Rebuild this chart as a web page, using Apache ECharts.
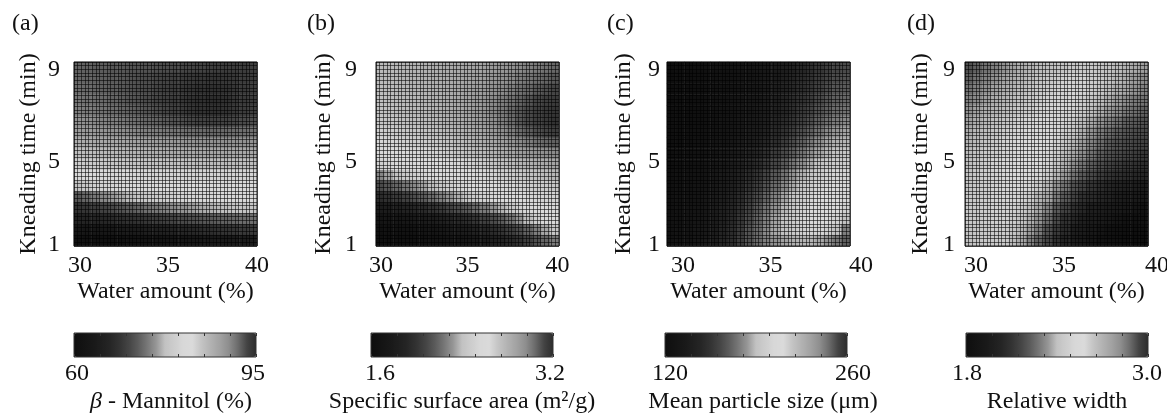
<!DOCTYPE html>
<html>
<head>
<meta charset="utf-8">
<script src="https://cdn.jsdelivr.net/npm/echarts@6/dist/echarts.min.js"></script>
<style>
  html, body { margin: 0; padding: 0; background: #fff; }
  #chart { width: 1167px; height: 413px; }
</style>
</head>
<body>
<div id="chart"></div>
<script>
// grid of the response surfaces
const waterAmount = [30, 30.5, 31, 31.5, 32, 32.5, 33, 33.5, 34, 34.5, 35, 35.5, 36, 36.5, 37, 37.5, 38, 38.5, 39, 39.5, 40];
const kneadingTime = [1, 1.5, 2, 2.5, 3, 3.5, 4, 4.5, 5, 5.5, 6, 6.5, 7, 7.5, 8, 8.5, 9];

// rows go from 9 min (top) down to 1 min (bottom)
const betaMannitol = [
  [92.0,92.0,92.2,92.2,92.4,92.4,92.6,92.6,92.7,92.8,92.9,93.0,93.2,93.3,93.4,93.6,93.7,93.8,93.8,93.8,93.7],
  [91.8,91.9,92.0,92.1,92.3,92.4,92.6,92.8,93.0,93.2,93.4,93.6,93.9,94.1,94.3,94.4,94.4,94.3,94.1,93.9,93.8],
  [91.5,91.6,91.8,92.0,92.2,92.4,92.6,92.8,93.0,93.3,93.6,93.9,94.2,94.5,94.7,94.8,94.8,94.6,94.3,94.0,93.8],
  [91.0,91.2,91.4,91.6,91.9,92.2,92.5,92.7,93.0,93.3,93.6,93.9,94.3,94.6,94.8,94.9,94.9,94.7,94.3,94.0,93.8],
  [90.5,90.7,90.9,91.2,91.5,91.8,92.0,92.3,92.6,92.9,93.2,93.6,94.0,94.4,94.6,94.7,94.7,94.5,94.1,93.8,93.6],
  [89.5,89.7,90.0,90.3,90.6,90.9,91.2,91.5,91.8,92.0,92.3,92.6,92.9,93.2,93.4,93.5,93.5,93.4,93.2,93.0,92.8],
  [88.5,88.7,88.9,89.2,89.5,89.8,90.0,90.3,90.5,90.7,90.9,91.1,91.3,91.5,91.6,91.7,91.7,91.6,91.5,91.4,91.3],
  [86.8,87.0,87.2,87.4,87.6,87.8,88.0,88.2,88.4,88.6,88.8,89.0,89.2,89.4,89.5,89.6,89.6,89.6,89.5,89.4,89.3],
  [85.0,85.2,85.4,85.6,85.8,86.0,86.2,86.4,86.6,86.8,87.0,87.2,87.4,87.5,87.6,87.7,87.7,87.7,87.6,87.5,87.4],
  [83.8,84.0,84.1,84.2,84.3,84.4,84.5,84.6,84.7,84.8,84.9,85.0,85.1,85.2,85.3,85.4,85.4,85.4,85.3,85.2,85.1],
  [82.0,82.5,82.8,83.0,83.0,83.0,83.0,83.1,83.1,83.2,83.2,83.3,83.3,83.4,83.4,83.4,83.4,83.4,83.3,83.3,83.2],
  [77.5,78.5,79.5,80.0,80.5,81.0,81.5,81.8,82.0,82.2,82.4,82.5,82.6,82.7,82.7,82.8,82.8,82.8,82.8,82.7,82.7],
  [72.0,73.0,74.0,75.0,75.8,76.5,77.2,77.8,78.3,78.8,79.2,79.6,80.0,80.3,80.6,80.8,81.0,81.2,81.3,81.4,81.5],
  [68.5,69.0,69.5,70.2,70.8,71.5,72.2,72.8,73.5,74.0,74.6,75.1,75.6,76.0,76.4,76.8,77.1,77.4,77.6,77.8,78.0],
  [66.0,66.3,66.6,67.0,67.4,67.8,68.2,68.6,69.0,69.5,70.0,70.4,70.8,71.2,71.6,72.0,72.4,72.7,73.0,73.3,73.5],
  [62.5,62.8,63.0,63.3,63.6,64.0,64.4,64.8,65.2,65.6,66.0,66.4,66.8,67.2,67.6,68.0,68.4,68.7,69.0,69.3,69.5],
  [60.5,60.6,60.7,60.8,61.0,61.2,61.4,61.6,61.8,62.0,62.3,62.6,62.9,63.2,63.5,63.8,64.0,64.2,64.4,64.6,64.8]
];

const surfaceArea = [
  [2.76,2.77,2.78,2.79,2.80,2.81,2.82,2.83,2.84,2.85,2.86,2.87,2.89,2.91,2.93,2.95,2.97,2.99,3.01,3.03,3.05],
  [2.76,2.77,2.78,2.79,2.80,2.81,2.82,2.83,2.84,2.85,2.87,2.89,2.91,2.93,2.95,2.97,3.00,3.02,3.04,3.06,3.08],
  [2.75,2.76,2.77,2.78,2.79,2.80,2.81,2.82,2.84,2.86,2.88,2.90,2.92,2.95,2.97,3.00,3.03,3.05,3.08,3.10,3.12],
  [2.74,2.75,2.76,2.77,2.78,2.79,2.80,2.82,2.84,2.86,2.88,2.91,2.94,2.97,3.00,3.03,3.06,3.09,3.12,3.14,3.15],
  [2.73,2.74,2.75,2.76,2.77,2.78,2.79,2.81,2.83,2.85,2.88,2.91,2.94,2.98,3.01,3.05,3.08,3.11,3.14,3.16,3.17],
  [2.71,2.72,2.73,2.74,2.75,2.76,2.77,2.79,2.81,2.83,2.86,2.89,2.92,2.96,3.00,3.04,3.08,3.11,3.14,3.16,3.18],
  [2.68,2.69,2.70,2.71,2.72,2.73,2.74,2.76,2.78,2.80,2.82,2.85,2.88,2.92,2.96,3.00,3.04,3.07,3.10,3.12,3.14],
  [2.65,2.66,2.67,2.68,2.69,2.70,2.71,2.72,2.74,2.76,2.78,2.81,2.84,2.87,2.90,2.94,2.97,3.00,3.03,3.05,3.06],
  [2.60,2.62,2.63,2.64,2.65,2.66,2.67,2.68,2.70,2.72,2.74,2.76,2.78,2.81,2.84,2.87,2.90,2.92,2.94,2.96,2.97],
  [2.50,2.53,2.56,2.58,2.60,2.62,2.63,2.64,2.65,2.66,2.67,2.69,2.71,2.73,2.75,2.77,2.79,2.81,2.83,2.85,2.87],
  [2.28,2.34,2.40,2.45,2.49,2.53,2.56,2.59,2.61,2.63,2.64,2.65,2.66,2.67,2.69,2.70,2.71,2.73,2.74,2.76,2.78],
  [2.10,2.14,2.19,2.24,2.29,2.34,2.39,2.44,2.48,2.52,2.56,2.59,2.62,2.64,2.65,2.66,2.67,2.68,2.69,2.70,2.71],
  [1.95,1.98,2.02,2.06,2.11,2.16,2.21,2.26,2.31,2.36,2.41,2.46,2.51,2.55,2.59,2.62,2.64,2.65,2.66,2.67,2.67],
  [1.80,1.82,1.85,1.88,1.91,1.94,1.98,2.02,2.06,2.10,2.15,2.20,2.25,2.31,2.37,2.43,2.49,2.55,2.60,2.63,2.65],
  [1.70,1.71,1.73,1.75,1.77,1.79,1.82,1.85,1.88,1.92,1.96,2.00,2.05,2.10,2.16,2.23,2.31,2.39,2.47,2.55,2.61],
  [1.64,1.65,1.66,1.67,1.68,1.70,1.72,1.74,1.77,1.80,1.83,1.87,1.91,1.95,2.00,2.05,2.11,2.18,2.26,2.35,2.43],
  [1.62,1.62,1.63,1.63,1.64,1.65,1.66,1.68,1.70,1.72,1.75,1.78,1.81,1.85,1.89,1.94,1.99,2.05,2.12,2.19,2.25]
];

const particleSize = [
  [120,121,122,123,124,125,126,127,128,130,132,134,137,140,144,148,152,156,159,162,164],
  [120,121,122,123,124,125,126,127,128,130,132,135,138,142,146,150,154,158,161,164,166],
  [120,121,122,123,124,125,126,127,129,131,133,136,140,144,148,152,156,160,164,167,169],
  [120,121,122,123,124,125,126,128,130,132,134,137,141,145,150,154,158,163,167,170,172],
  [121,121,122,123,124,125,127,129,131,133,136,139,143,147,152,157,161,166,170,173,175],
  [121,122,122,123,124,126,128,130,132,135,138,141,146,150,155,160,165,170,174,177,180],
  [121,122,123,124,125,127,129,131,134,137,140,144,149,154,159,165,170,175,180,183,185],
  [122,122,123,125,126,128,130,133,136,139,143,147,152,158,164,170,176,181,185,187,188],
  [122,123,124,125,127,129,132,135,138,142,146,151,157,163,169,175,181,185,188,190,191],
  [122,123,124,126,128,131,134,137,141,145,150,156,162,168,175,181,186,190,193,195,195],
  [123,124,125,127,129,132,136,140,144,149,155,161,168,175,182,187,191,195,199,201,200],
  [123,124,126,128,130,134,138,142,147,153,159,166,173,180,186,191,196,201,205,205,203],
  [124,125,127,129,132,136,140,145,150,157,164,171,178,185,190,195,201,206,208,207,203],
  [124,126,128,130,133,137,142,147,153,160,168,175,182,188,193,199,205,209,209,206,199],
  [125,126,128,131,134,138,143,149,156,163,171,178,185,190,195,201,206,208,206,200,190],
  [125,127,129,132,135,139,145,151,158,166,173,180,186,190,194,199,202,202,198,190,178],
  [126,127,129,132,136,140,146,152,159,166,173,178,182,185,187,188,188,186,182,176,170]
];

const relativeWidth = [
  [2.19,2.23,2.27,2.30,2.33,2.355,2.37,2.38,2.39,2.395,2.40,2.41,2.43,2.43,2.43,2.41,2.40,2.39,2.38,2.365,2.35],
  [2.23,2.27,2.30,2.33,2.355,2.37,2.38,2.39,2.40,2.42,2.45,2.48,2.48,2.48,2.45,2.43,2.40,2.385,2.37,2.345,2.32],
  [2.27,2.30,2.33,2.355,2.37,2.38,2.39,2.40,2.43,2.45,2.48,2.49,2.49,2.48,2.45,2.41,2.39,2.37,2.36,2.33,2.30],
  [2.30,2.32,2.35,2.37,2.38,2.39,2.40,2.43,2.45,2.48,2.50,2.50,2.49,2.45,2.41,2.39,2.37,2.345,2.32,2.285,2.27],
  [2.33,2.355,2.37,2.38,2.39,2.40,2.43,2.45,2.48,2.50,2.51,2.50,2.48,2.43,2.395,2.37,2.345,2.32,2.285,2.26,2.23],
  [2.355,2.37,2.385,2.395,2.41,2.45,2.48,2.50,2.51,2.52,2.51,2.48,2.43,2.39,2.365,2.33,2.30,2.27,2.23,2.215,2.19],
  [2.37,2.385,2.395,2.41,2.45,2.48,2.50,2.52,2.52,2.52,2.50,2.45,2.40,2.37,2.33,2.285,2.255,2.225,2.20,2.18,2.17],
  [2.38,2.39,2.40,2.43,2.48,2.50,2.52,2.55,2.55,2.52,2.48,2.41,2.38,2.345,2.30,2.255,2.215,2.19,2.17,2.155,2.145],
  [2.39,2.40,2.43,2.45,2.48,2.50,2.52,2.56,2.52,2.50,2.45,2.39,2.36,2.32,2.27,2.22,2.19,2.17,2.15,2.13,2.11],
  [2.395,2.41,2.45,2.48,2.50,2.51,2.56,2.56,2.52,2.48,2.40,2.37,2.32,2.27,2.22,2.18,2.15,2.125,2.10,2.085,2.07],
  [2.40,2.43,2.45,2.48,2.50,2.52,2.56,2.52,2.50,2.43,2.38,2.34,2.27,2.215,2.17,2.13,2.10,2.075,2.06,2.04,2.03],
  [2.41,2.43,2.45,2.48,2.50,2.51,2.51,2.49,2.43,2.38,2.33,2.27,2.19,2.145,2.10,2.07,2.04,2.01,1.99,1.97,1.95],
  [2.43,2.44,2.45,2.48,2.50,2.50,2.48,2.43,2.38,2.36,2.285,2.215,2.15,2.08,2.06,2.03,2.01,1.97,1.95,1.94,1.92],
  [2.43,2.44,2.45,2.48,2.48,2.47,2.43,2.39,2.36,2.30,2.215,2.15,2.08,2.04,1.98,1.97,1.95,1.94,1.92,1.88,1.85],
  [2.43,2.43,2.45,2.47,2.48,2.45,2.40,2.37,2.33,2.255,2.17,2.08,2.04,1.98,1.95,1.94,1.92,1.88,1.85,1.84,1.83],
  [2.41,2.42,2.43,2.45,2.45,2.41,2.385,2.345,2.285,2.19,2.12,2.06,1.98,1.95,1.92,1.88,1.85,1.83,1.82,1.81,1.81],
  [2.40,2.41,2.43,2.43,2.43,2.39,2.365,2.30,2.23,2.16,2.08,2.01,1.95,1.92,1.88,1.85,1.83,1.82,1.81,1.805,1.80]
];

// tick labels
const waterTicks = [30, 35, 40];
const timeTicks = [1, 5, 9];
const barMinLabels = ['60', '1.6', '120', '1.8'];
const barMaxLabels = ['95', '3.2', '260', '3.0'];

// grey scale used by all four maps (dark -> light -> dark)
const greyMap = ['#0e0e0e','#131313','#181818','#1e1e1e','#262626','#333333','#444444','#5a5a5a','#767676','#959595',
  '#c2c2c2','#cdcdcd','#d8d8d8','#dadada','#c4c4c4','#b2b2b2','#a2a2a2','#8e8e8e','#6c6c6c','#444444','#2c2c2c'];

const FONT = 'Liberation Serif';
const INK = '#111';

// layout of each panel; *Shift = small label nudges seen in the original figure
const panels = [
  { tag: '(a)', tagX: 12, left: 74, barLeft: 74, data: betaMannitol, min: 60, max: 95,
    title: '{i|β} - Mannitol (%)', titleShift: 6,
    xShift: [6, 2.5, 0], yMargin: 14, yGap: 33, barShift: [3, -3] },
  { tag: '(b)', tagX: 307, left: 376, barLeft: 371, data: surfaceArea, min: 1.6, max: 3.2,
    title: 'Specific surface area (m²/g)', titleShift: 0,
    xShift: [5, 0, -1.5], yMargin: 19, yGap: 40, barShift: [9, -3] },
  { tag: '(c)', tagX: 607, left: 667, barLeft: 665, data: particleSize, min: 120, max: 260,
    title: 'Mean particle size (μm)', titleShift: 7,
    xShift: [16, 12, 11], yMargin: 7, yGap: 31, barShift: [5, 6] },
  { tag: '(d)', tagX: 907, left: 965, barLeft: 966, data: relativeWidth, min: 1.8, max: 3.0,
    title: 'Relative width', titleShift: 0,
    xShift: [11, 7.5, 9], yMargin: 10, yGap: 32, barShift: [1, -1] }
];
const yShift = [-1.5, 7.5, 7.5]; // for 1, 5, 9

const PLOT_TOP = 62, PLOT_W = 183, PLOT_H = 184;
const BAR_TOP = 333, BAR_W = 182, BAR_H = 24;

const grid = [], xAxis = [], yAxis = [], series = [], visualMap = [], graphic = [];
const meshLine = { color: 'rgba(0,0,0,0.55)', width: 1 };
const base = { color: INK, fontSize: 24, fontFamily: FONT };

// rich styles that nudge a label sideways (dx) or down (dy)
function hPad(dx) { return Object.assign({}, base, { padding: dx >= 0 ? [0, 0, 0, 2 * dx] : [0, -2 * dx, 0, 0] }); }
function vPad(dy) { return Object.assign({}, base, { padding: dy >= 0 ? [2 * dy, 0, 0, 0] : [0, 0, -2 * dy, 0] }); }

panels.forEach((p, i) => {
  const g = grid.length;

  // heatmap cells
  grid.push({ left: p.left, top: PLOT_TOP, width: PLOT_W, height: PLOT_H, outerBoundsMode: 'none' });
  const hx = xAxis.length, hy = yAxis.length;
  xAxis.push({ type: 'category', gridIndex: g, data: waterAmount.map(String), show: false });
  yAxis.push({ type: 'category', gridIndex: g, data: kneadingTime.map(String), show: false });
  const cells = [];
  p.data.forEach((row, r) => {
    const yi = kneadingTime.length - 1 - r;
    row.forEach((v, xi) => cells.push([xi, yi, v]));
  });
  series.push({
    type: 'heatmap', xAxisIndex: hx, yAxisIndex: hy, data: cells,
    progressive: 0, emphasis: { disabled: true }
  });
  visualMap.push({
    type: 'continuous', seriesIndex: i, min: p.min, max: p.max,
    orient: 'horizontal', left: p.barLeft, top: BAR_TOP,
    itemWidth: BAR_H, itemHeight: BAR_W, padding: 0,
    calculable: false, hoverLink: false,
    inRange: { color: greyMap }
  });

  // mesh, frame, ticks and titles
  grid.push({ left: p.left, top: PLOT_TOP, width: PLOT_W, height: PLOT_H, outerBoundsMode: 'none',
    show: true, borderColor: '#222', borderWidth: 1, backgroundColor: 'transparent', z: 5 });
  const xRich = {}, yRich = {};
  waterTicks.forEach((t, k) => { xRich['t' + k] = hPad(p.xShift[k]); });
  timeTicks.forEach((t, k) => { yRich['t' + k] = vPad(yShift[k]); });
  xAxis.push({
    type: 'value', gridIndex: g + 1, min: 30, max: 40, interval: 5, z: 5,
    axisLine: { show: false }, axisTick: { show: false },
    splitLine: { show: true, lineStyle: meshLine },
    minorTick: { show: false, splitNumber: 25 },
    minorSplitLine: { show: true, lineStyle: meshLine },
    axisLabel: Object.assign({}, base, {
      margin: 8, rich: xRich,
      formatter: v => { const k = waterTicks.indexOf(v); return k < 0 ? '' : '{t' + k + '|' + waterTicks[k] + '}'; }
    }),
    name: 'Water amount (%)', nameLocation: 'middle', nameGap: 34,
    nameTextStyle: base
  });
  yAxis.push({
    type: 'value', gridIndex: g + 1, min: 1, max: 9, interval: 4, z: 5,
    axisLine: { show: false }, axisTick: { show: false },
    splitLine: { show: true, lineStyle: meshLine },
    minorTick: { show: false, splitNumber: 25 },
    minorSplitLine: { show: true, lineStyle: meshLine },
    axisLabel: Object.assign({}, base, {
      margin: p.yMargin, rich: yRich,
      formatter: v => { const k = timeTicks.indexOf(v); return k < 0 ? '' : '{t' + k + '|' + timeTicks[k] + '}'; }
    }),
    name: 'Kneading time (min)', nameLocation: 'middle', nameGap: p.yGap,
    nameTextStyle: base
  });

  // colour bar frame, ticks and labels
  grid.push({ left: p.barLeft, top: BAR_TOP, width: BAR_W, height: BAR_H, outerBoundsMode: 'none',
    show: true, borderColor: '#333', borderWidth: 1, backgroundColor: 'transparent', z: 10 });
  const tickStyle = { show: true, inside: true, length: 3, lineStyle: { color: '#333', width: 1 } };
  xAxis.push({
    type: 'value', gridIndex: g + 2, position: 'bottom', min: 0, max: 7, interval: 1, z: 10,
    axisLine: { show: false }, axisTick: tickStyle, splitLine: { show: false },
    axisLabel: Object.assign({}, base, {
      margin: 5, rich: { lo: hPad(p.barShift[0]), hi: hPad(p.barShift[1]) },
      formatter: v => (v === 0 ? '{lo|' + barMinLabels[i] + '}' : v === 7 ? '{hi|' + barMaxLabels[i] + '}' : '')
    }),
    name: p.title, nameLocation: 'middle', nameGap: 33,
    nameTextStyle: Object.assign({}, base, {
      padding: [0, 0, 0, 2 * p.titleShift],
      rich: { i: Object.assign({}, base, { fontStyle: 'italic' }) }
    })
  });
  xAxis.push({
    type: 'value', gridIndex: g + 2, position: 'top', min: 0, max: 7, interval: 1, z: 10,
    axisLine: { show: false }, axisTick: tickStyle, splitLine: { show: false },
    axisLabel: { show: false }
  });
  yAxis.push({ type: 'value', gridIndex: g + 2, show: false, min: 0, max: 1 });

  graphic.push({
    type: 'text', left: p.tagX, top: 12,
    style: { text: p.tag, font: '24px "' + FONT + '"', fill: INK }
  });
});

const chart = echarts.init(document.getElementById('chart'), null, { renderer: 'canvas' });
chart.setOption({
  animation: false,
  backgroundColor: '#fff',
  textStyle: { fontFamily: FONT },
  grid, xAxis, yAxis, series, visualMap, graphic
});
</script>
</body>
</html>
